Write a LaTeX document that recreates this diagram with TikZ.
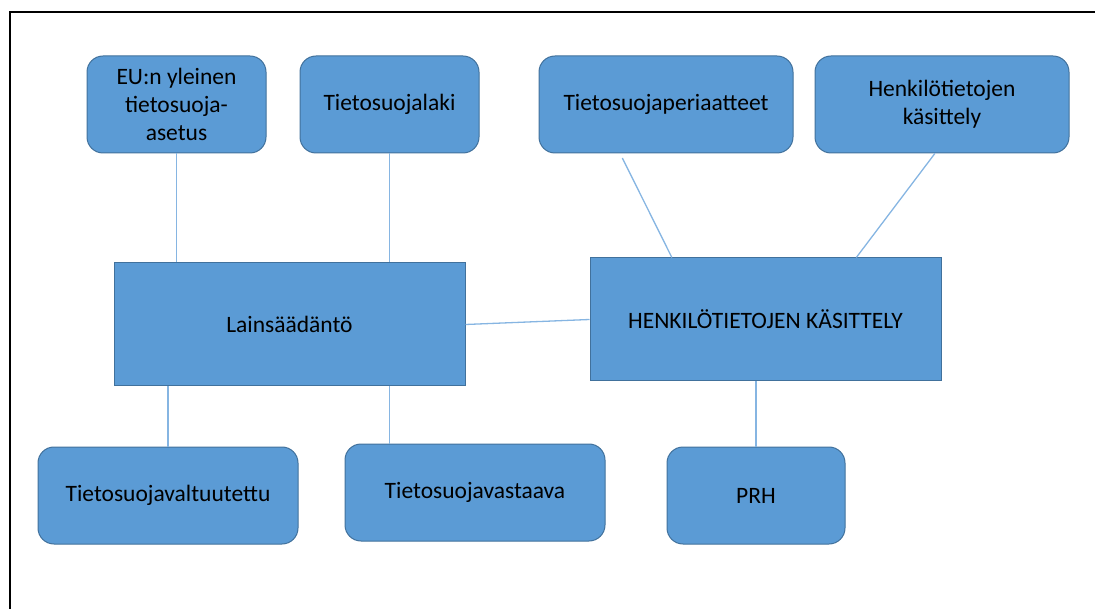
\documentclass[tikz,border=0pt]{standalone}
\usepackage{fontspec}
\setmainfont{Carlito}
\usetikzlibrary{positioning,calc}
\definecolor{boxblue}{HTML}{5B9BD5}
\definecolor{boxedge}{HTML}{41719C}
\definecolor{linkblue}{HTML}{86B5E2}

\begin{document}
\begin{tikzpicture}[x=1pt,y=-1pt]
    \tikzstyle{every node}=[inner sep=0,align=center,font=\fontsize{23.5}{28}\selectfont]
    \tikzstyle{box}=[draw=boxedge,fill=boxblue,line width=1,minimum height=97]
    \tikzstyle{topic}=[box,rounded corners=16]
    \tikzstyle{hub}=[box,rounded corners=0,minimum width=351,minimum height=123]
    \tikzstyle{link}=[draw=linkblue,line width=1.3]
    \useasboundingbox (0,0) rectangle (1095,609);
    \draw[line width=2] (9.5,609) -- (9.5,12.5) -- (1095,12.5);

    % ylarivi
    \node[topic,minimum width=179] (eu) at (176.5,104.5) {EU:n yleinen\\tietosuoja-\\asetus};
    \node[topic,minimum width=179] (laki) at (389.5,104.5) {Tietosuojalaki};
    \node[topic,minimum width=254] (peri) at (666,104.5) {Tietosuojaperiaatteet};
    \node[topic,minimum width=254] (kas) at (942,104.5) {Henkilötietojen\\käsittely};

    % keskirivi
    \node[hub] (lain) at (289.5,324.5) {Lainsäädäntö};
    \node[hub] (hk) at (765.5,319.5) {HENKILÖTIETOJEN KÄSITTELY};

    % alarivi
    \node[topic,minimum width=260] (valt) at (168,495.5) {Tietosuojavaltuutettu};
    \node[topic,minimum width=260] (vast) at (475,492.5) {Tietosuojavastaava};
    \node[topic,minimum width=178] (prh) at (756,495.5) {PRH};

    \draw[link] (eu.south) -- (eu.south |- lain.north);
    \draw[link] (laki.south) -- (laki.south |- lain.north);
    \draw[link] (lain.east) -- (hk.west);
    \draw[link,shorten <=5] ($(peri.south west)!0.32!(peri.south east)$)
        -- ($(hk.north west)!0.234!(hk.north east)$);
    \draw[link] ($(kas.south west)!0.472!(kas.south east)$)
        -- ($(hk.north west)!0.758!(hk.north east)$);
    \draw[link] (valt.north |- lain.south) -- (valt.north);
    \draw[link] (laki.south |- lain.south) -- (laki.south |- vast.north);
    \draw[link] (prh.north |- hk.south) -- (prh.north);
\end{tikzpicture}
\end{document}
